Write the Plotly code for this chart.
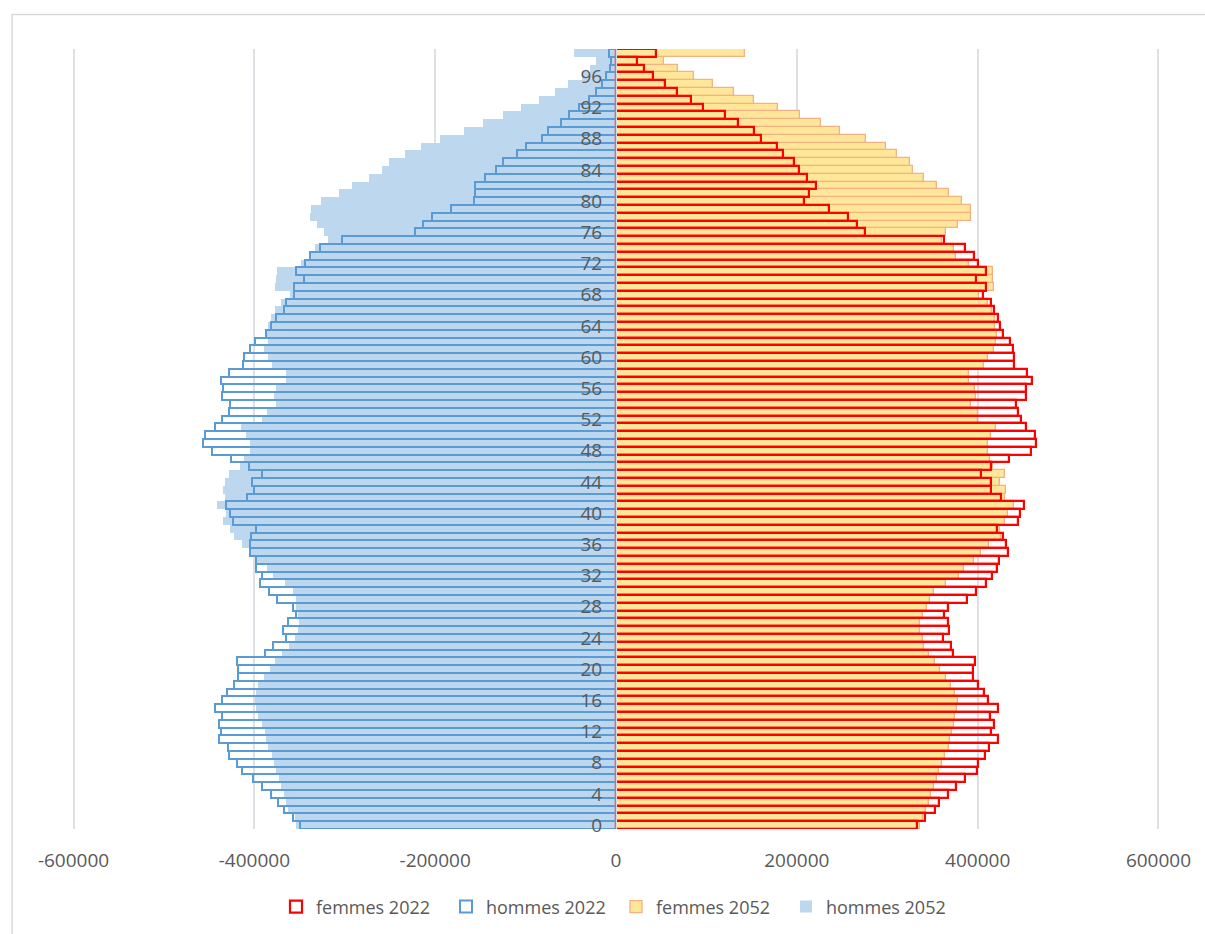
import plotly.graph_objects as go

ages = list(range(100))

hommes_2022 = [349800, 357000, 367500, 373800, 382000, 392000, 402000, 414000, 418800, 428000,
               429000, 439500, 436500, 439500, 435400, 443000, 435400, 430000, 422500, 418000,
               418000, 418800, 387800, 379000, 365000, 368000, 362700, 354000, 357000, 374500,
               383800, 394000, 392000, 398500, 398500, 405000, 405000, 404000, 398500, 423600,
               427000, 431000, 407700, 400700, 402600, 391000, 406000, 425500, 446500, 456800,
               455000, 444000, 435400, 428000, 426600, 435800, 434700, 436500, 428000, 412500,
               411000, 405000, 399600, 386700, 382000, 375600, 367500, 365000, 356000, 356000,
               345000, 354000, 343500, 339000, 327000, 303000, 222500, 213000, 203000, 182600,
               157000, 156000, 156000, 145000, 133000, 125000, 109000, 100000, 82000, 75000,
               61000, 51700, 40600, 29500, 22000, 16000, 11000, 7000, 5000, 8000]

hommes_2052 = [353500, 355000, 362700, 364600, 367500, 370000, 372700, 375600, 378000, 381000,
               385000, 386700, 388600, 392000, 396000, 398500, 399600, 398500, 396000, 389700,
               383000, 376800, 369000, 361600, 355000, 351700, 350500, 351700, 353500, 354000,
               357000, 366000, 379000, 386000, 399600, 405000, 414000, 423000, 427000, 434700,
               431000, 441000, 432800, 434700, 432800, 428000, 416000, 411400, 405000, 405000,
               409000, 415000, 391000, 386000, 375600, 378000, 375600, 365000, 365000, 380000,
               385000, 389700, 385000, 387500, 385000, 382000, 376800, 370000, 361000, 376800,
               375600, 375000, 348700, 339500, 333000, 318000, 323000, 331000, 338700, 337600,
               326000, 306600, 291500, 273000, 259000, 251000, 233600, 216000, 195000, 168000,
               147600, 125500, 105500, 85000, 67500, 53000, 38000, 29000, 22000, 47000]

femmes_2022 = [332800, 341300, 353000, 356800, 367000, 376000, 386000, 399300, 400000, 407700,
               413000, 422000, 415000, 417700, 414000, 422000, 411400, 406600, 400400, 394800,
               394800, 396700, 372300, 370500, 361600, 368600, 367000, 363000, 367000, 388000,
               398000, 409200, 415900, 421400, 424000, 433200, 431700, 428000, 421400, 444300,
               447000, 451000, 425800, 414800, 414800, 404000, 414800, 435000, 459000, 465000,
               463800, 453900, 448000, 444600, 442400, 453500, 453500, 460000, 454600, 440000,
               440000, 439000, 436000, 427700, 424400, 422500, 418500, 414800, 405500, 409000,
               398000, 409600, 400000, 396000, 386000, 363000, 275600, 266400, 256500, 235800,
               207400, 213000, 221000, 211000, 202600, 197000, 184500, 177900, 160000, 152800,
               134700, 120700, 96700, 82700, 67000, 54000, 41300, 31000, 23600, 44300]

femmes_2052 = [336500, 340000, 343000, 345800, 348300, 351300, 355000, 357600, 361000, 363500,
               368000, 369700, 371600, 373400, 375300, 377000, 377900, 375300, 370500, 365300,
               358700, 352400, 345800, 341000, 339000, 335800, 336500, 339500, 344000, 347600,
               352000, 365300, 379000, 384500, 396300, 403700, 413000, 425800, 424400, 430600,
               433200, 440600, 430000, 431000, 425000, 430000, 417000, 414000, 411000, 411000,
               415000, 420000, 400000, 400000, 392600, 398000, 397400, 390800, 390800, 406600,
               411400, 417700, 420700, 421400, 419600, 419600, 415900, 411400, 401000, 418500,
               417000, 417000, 390000, 376000, 373400, 360500, 365300, 377900, 392600, 392600,
               382700, 368000, 355000, 341000, 329000, 324700, 310700, 298500, 276800, 248000,
               226600, 203700, 179700, 152800, 130000, 107000, 86700, 69000, 53000, 142800]

x_tick_vals = [-600000, -400000, -200000, 0, 200000, 400000, 600000]
x_tick_text = ["-600000", "-400000", "-200000", "0", "200000", "400000", "600000"]

FONT = "Open Sans"
TXT = "#595959"

fig = go.Figure()

fig.add_trace(go.Bar(
    y=ages, x=femmes_2052, orientation="h", name="femmes 2052", legendrank=3,
    marker=dict(color="#FFE699", line=dict(color="#F4B183", width=1.3)),
))
fig.add_trace(go.Bar(
    y=ages, x=[-v for v in hommes_2052], orientation="h", name="hommes 2052", legendrank=4,
    marker=dict(color="#BDD7EE", line=dict(color="#BDD7EE", width=0)),
))
fig.add_trace(go.Bar(
    y=ages, x=femmes_2022, orientation="h", name="femmes 2022", legendrank=1,
    marker=dict(color="rgba(0,0,0,0)", line=dict(color="#FF0000", width=2.2)),
))
fig.add_trace(go.Bar(
    y=ages, x=[-v for v in hommes_2022], orientation="h", name="hommes 2022", legendrank=2,
    marker=dict(color="rgba(0,0,0,0)", line=dict(color="#5B9BD5", width=2)),
))

fig.update_layout(
    width=1205, height=934,
    margin=dict(l=69, r=42, t=49, b=105, autoexpand=False),
    barmode="overlay", bargap=0,
    paper_bgcolor="white", plot_bgcolor="white",
    font=dict(family=FONT, color=TXT, size=18),
    showlegend=True,
    legend=dict(orientation="h", x=0.5, xanchor="center", yref="container", y=0.029,
                yanchor="middle", font=dict(size=18, color=TXT), itemwidth=30,
                traceorder="normal", entrywidth=125, entrywidthmode="pixels"),
    xaxis=dict(range=[-605000, 605000], tickvals=x_tick_vals, ticktext=x_tick_text,
               showgrid=True, gridcolor="#DDE1E6", gridwidth=1.5, zeroline=False,
               showline=False, ticks="", ticklabelstandoff=18, automargin=False,
               tickfont=dict(size=19, color=TXT, family=FONT)),
    yaxis=dict(range=[-0.5, 99.5], tick0=0, dtick=4, anchor="free", position=0.5,
               showgrid=False, zeroline=False, showline=True, linecolor="#D9D9D9", linewidth=1,
               ticks="", ticklabelstandoff=10, automargin=False,
               tickfont=dict(size=19, color=TXT, family=FONT)),
    shapes=[dict(type="rect", xref="paper", yref="paper", x0=-0.052, x1=1.06,
                 y0=-0.2, y1=1.0443, line=dict(color="#D9D9D9", width=1.5),
                 fillcolor="rgba(0,0,0,0)", layer="below")],
)

fig.write_html("out.html", config={"displayModeBar": False},
               post_script="document.body.style.margin='0';")
